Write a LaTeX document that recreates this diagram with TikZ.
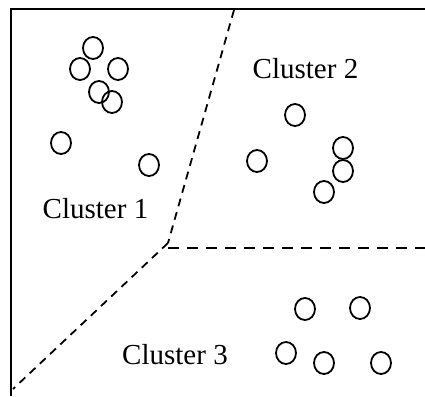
\documentclass[tikz,border=0pt]{standalone}
\usepackage{fontspec}
\setmainfont{Liberation Serif}
\usetikzlibrary{shapes.geometric}
\usetikzlibrary{positioning}

\begin{document}
\begin{tikzpicture}[x=1pt,y=-1pt]
        \tikzstyle{point}=[draw, ellipse, line width=1.8pt, minimum width=20pt, minimum height=22pt, inner sep=0pt]
        \tikzstyle{label}=[anchor=base, inner sep=0pt, font=\fontsize{29}{30}\selectfont]
        \tikzstyle{border}=[dash pattern=on 8pt off 6pt, line width=1.8pt]
        \useasboundingbox (0,0) rectangle (425,396);
        % frame
        \draw[line width=2.4pt] (425,9) -- (11,9) -- (11,396);
        % borders between the clusters
        \coordinate (top) at (234,10);
        \coordinate (mid) at (168,243);
        \coordinate (bottom) at (13,389);
        \coordinate (midright) at (168,248);
        \coordinate (right) at (425,248);
        \path [draw,border] (top) -- (mid);
        \path [draw,border] (mid) -- (bottom);
        \path [draw,border,dash pattern=on 11pt off 8pt] (midright) -- (right);
        % cluster 1
        \node[point] (a1) at (93,48) {};
        \node[point] (a2) at (80,69) {};
        \node[point] (a3) at (118,69) {};
        \node[point] (a4) at (99,92) {};
        \node[point] (a5) at (112,102) {};
        \node[point] (a6) at (61,143) {};
        \node[point] (a7) at (149,165) {};
        % cluster 2
        \node[point] (b1) at (295,115) {};
        \node[point] (b2) at (257,161) {};
        \node[point] (b3) at (343,148) {};
        \node[point] (b4) at (343,171) {};
        \node[point] (b5) at (324,192) {};
        % cluster 3
        \node[point] (c1) at (305,309) {};
        \node[point] (c2) at (360,308) {};
        \node[point] (c3) at (286,353) {};
        \node[point] (c4) at (324,363) {};
        \node[point] (c5) at (381,363) {};
        % names
        \node[label] (cluster1) at (95.5,218) {Cluster 1};
        \node[label] (cluster2) at (305.5,78) {Cluster 2};
        \node[label] (cluster3) at (175,364) {Cluster 3};
      \end{tikzpicture}
\end{document}
